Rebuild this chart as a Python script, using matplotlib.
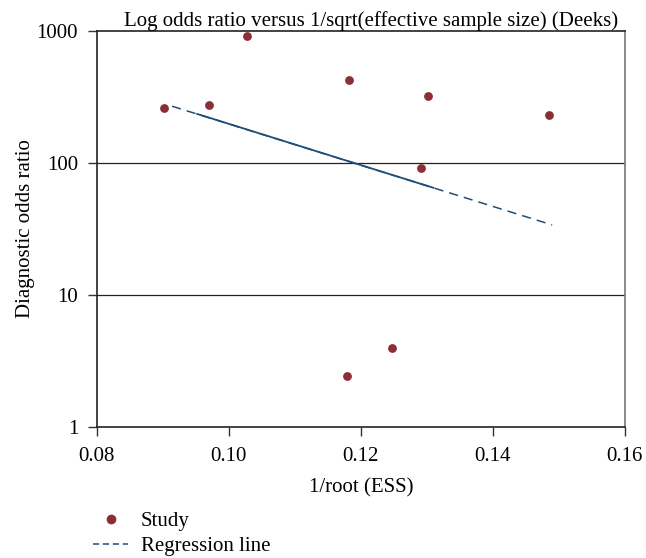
import matplotlib.pyplot as plt
from matplotlib.lines import Line2D

plt.rcParams['font.family'] = ['Liberation Serif', 'DejaVu Serif']

# studies: 1/sqrt(ESS) and diagnostic odds ratio
inv_root_ess = [0.0902, 0.0970, 0.1027, 0.1182, 0.1302, 0.1486, 0.1291, 0.1179, 0.1248]
dor = [261, 275, 916, 425, 322, 231, 91.6, 2.43, 3.96]

# regression line endpoints (dashed) and the solid middle piece
reg_x = [0.0914, 0.1490]
reg_y = [270, 34]
solid_x = [0.0952, 0.1310]
solid_y = [236, 65]

study_col = '#8b2f37'
line_col = '#1f4e79'

fig = plt.figure(figsize=(6.46, 5.58), dpi=100)
ax = fig.add_axes([0.150, 0.235, 0.817, 0.709])

ax.set_yscale('log')
ax.set_xlim(0.08, 0.16)
ax.set_ylim(1, 1000)

for y in [10, 100]:
    ax.axhline(y, color='#222222', lw=0.9, zorder=1)

ax.plot(reg_x, reg_y, color=line_col, lw=1.1, ls=(0, (6, 4)), zorder=2)
ax.plot(solid_x, solid_y, color=line_col, lw=1.3, zorder=2)
ax.scatter(inv_root_ess, dor, s=40, color=study_col, zorder=3, linewidths=0)

ax.set_xticks([0.08, 0.10, 0.12, 0.14, 0.16])
ax.set_xticklabels(['0.08', '0.10', '0.12', '0.14', '0.16'])
ax.set_yticks([1, 10, 100, 1000])
ax.set_yticklabels(['1', '10', '100', '1000'])
ax.minorticks_off()
ax.tick_params(labelsize=15, length=6.5, width=1, color='#333333', direction='out')
ax.tick_params(axis='x', pad=8)
ax.tick_params(axis='y', pad=7)

for s in ['left', 'bottom', 'top']:
    ax.spines[s].set_color('#222222')
    ax.spines[s].set_linewidth(1.2)
ax.spines['right'].set_color('#777777')
ax.spines['right'].set_linewidth(1.2)

ax.set_xlabel('1/root (ESS)', fontsize=15, labelpad=9)
ax.set_ylabel('Diagnostic odds ratio', fontsize=15, labelpad=1)
ax.set_title('Log odds ratio versus 1/sqrt(effective sample size) (Deeks)', fontsize=15, pad=3, x=0.52)

handles = [
    Line2D([], [], ls='none', marker='o', markersize=6, color=study_col),
    Line2D([], [], color=line_col, lw=1.1, ls=(0, (4, 2.5))),
]
fig.legend(handles, ['Study', 'Regression line'], loc='upper left',
           bbox_to_anchor=(0.144, 0.083), frameon=False, fontsize=15,
           handlelength=1.7, labelspacing=0.25, borderaxespad=0, handletextpad=0.58,
           borderpad=0)

fig.savefig('out.png', dpi=100)
